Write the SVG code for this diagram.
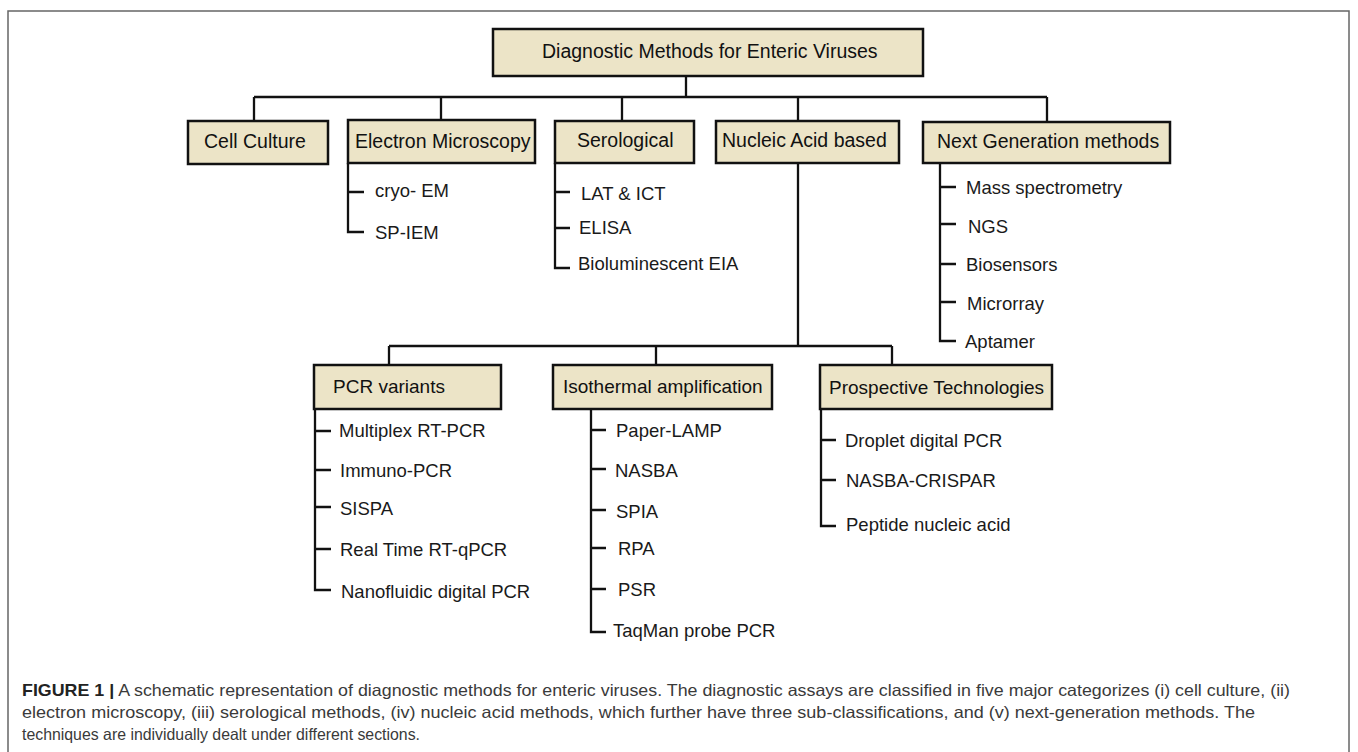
<svg xmlns="http://www.w3.org/2000/svg" width="1358" height="752" viewBox="0 0 1358 752">
<style>
.box{fill:#ece4c7;stroke:#111;stroke-width:2.5}
.lbl{font-family:"Liberation Sans",Arial,sans-serif;font-size:19.5px;fill:#111}
.lbl2{font-family:"Liberation Sans",Arial,sans-serif;font-size:19px;fill:#111}
.item{font-family:"Liberation Sans",Arial,sans-serif;font-size:18.5px;fill:#1a1a1a}
.conn{stroke:#111;stroke-width:2.3;fill:none}
.cap{font-family:"Liberation Sans",Arial,sans-serif;font-size:16.5px;fill:#3a3a3a}
</style>
<rect width="1358" height="752" fill="#fff"/>
<rect x="8" y="11" width="1341" height="760" fill="none" stroke="#666" stroke-width="1.5"/>
<g id="connectors" class="conn">
<path d="M686,76 V97 M254,97 H1047 M254,97 V121 M441,97 V120 M622,97 V121 M798,97 V121 M1047,97 V122"/>
<path d="M798,163 V346 M389,346 H892 M389,346 V365 M656,346 V365 M892,346 V365"/>
<path d="M348,163 V232 H364 M348,192 H364"/>
<path d="M555,163 V268 H570 M555,192 H570 M555,228 H570"/>
<path d="M940,163 V341 H956 M940,187 H956 M940,224 H956 M940,264 H956 M940,302 H956"/>
<path d="M315,409 V590 H331 M315,431 H331 M315,470 H331 M315,507 H331 M315,549 H331"/>
<path d="M591,409 V632 H606 M591,430 H606 M591,469 H606 M591,510 H606 M591,548 H606 M591,589 H606"/>
<path d="M821,409 V526 H836 M821,440 H836 M821,480 H836"/>
</g>
<g id="root"><rect class="box" x="493" y="29" width="430" height="47"/><text class="lbl" x="542" y="58">Diagnostic Methods for Enteric Viruses</text></g>
<g id="cell-culture"><rect class="box" x="188" y="121" width="140" height="43"/><text class="lbl" x="204" y="148">Cell Culture</text></g>
<g id="electron-microscopy"><rect class="box" x="348" y="120" width="187" height="43"/><text class="lbl" x="355" y="148">Electron Microscopy</text>
<text class="item" x="375" y="197">cryo- EM</text><text class="item" x="375" y="239">SP-IEM</text></g>
<g id="serological"><rect class="box" x="555" y="121" width="139" height="42"/><text class="lbl" x="577" y="147">Serological</text>
<text class="item" x="581" y="200">LAT &amp; ICT</text><text class="item" x="579" y="234">ELISA</text><text class="item" x="578" y="270">Bioluminescent EIA</text></g>
<g id="nucleic-acid"><rect class="box" x="716" y="121" width="183" height="42"/><text class="lbl" x="722" y="147">Nucleic Acid based</text></g>
<g id="next-generation"><rect class="box" x="923" y="122" width="247" height="41"/><text class="lbl" x="937" y="148">Next Generation methods</text>
<text class="item" x="966" y="194">Mass spectrometry</text><text class="item" x="968" y="233">NGS</text><text class="item" x="966" y="271">Biosensors</text><text class="item" x="967" y="310">Microrray</text><text class="item" x="965" y="348">Aptamer</text></g>
<g id="pcr-variants"><rect class="box" x="314" y="365" width="187" height="44"/><text class="lbl2" x="333" y="393">PCR variants</text>
<text class="item" x="339" y="437">Multiplex RT-PCR</text><text class="item" x="340" y="477">Immuno-PCR</text><text class="item" x="340" y="515">SISPA</text><text class="item" x="340" y="556">Real Time RT-qPCR</text><text class="item" x="341" y="598">Nanofluidic digital PCR</text></g>
<g id="isothermal"><rect class="box" x="553" y="365" width="219" height="44"/><text class="lbl2" x="563" y="393">Isothermal amplification</text>
<text class="item" x="616" y="437">Paper-LAMP</text><text class="item" x="615" y="477">NASBA</text><text class="item" x="616" y="518">SPIA</text><text class="item" x="618" y="555">RPA</text><text class="item" x="618" y="596">PSR</text><text class="item" x="613" y="637">TaqMan probe PCR</text></g>
<g id="prospective"><rect class="box" x="820" y="365" width="232" height="44"/><text class="lbl2" x="829" y="394">Prospective Technologies</text>
<text class="item" x="845" y="447">Droplet digital PCR</text><text class="item" x="846" y="487">NASBA-CRISPAR</text><text class="item" x="846" y="531">Peptide nucleic acid</text></g>
<g id="caption" class="cap">
<text x="22" y="696" textLength="1268" lengthAdjust="spacingAndGlyphs"><tspan font-weight="bold" fill="#222">FIGURE 1 |</tspan> A schematic representation of diagnostic methods for enteric viruses. The diagnostic assays are classified in five major categorizes (i) cell culture, (ii)</text>
<text x="22" y="718" textLength="1233" lengthAdjust="spacingAndGlyphs">electron microscopy, (iii) serological methods, (iv) nucleic acid methods, which further have three sub-classifications, and (v) next-generation methods. The</text>
<text x="22" y="740" textLength="398" lengthAdjust="spacingAndGlyphs">techniques are individually dealt under different sections.</text>
</g>
</svg>
